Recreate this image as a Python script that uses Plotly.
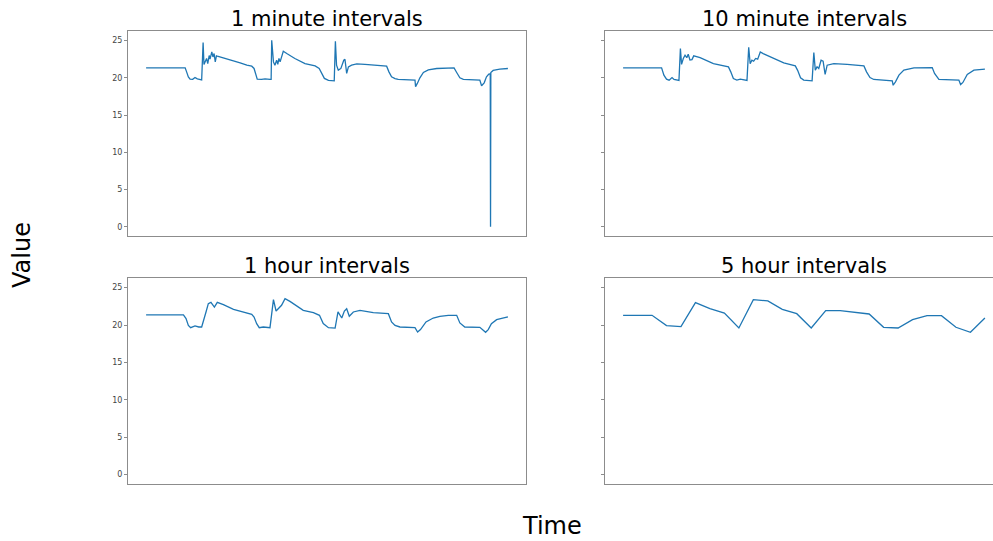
import plotly.graph_objects as go

# Sensor value over time, resampled at four intervals (time in hours from start)
min1_hours = [0, 13.5, 14.0, 14.6, 15.2, 16.1, 16.9, 17.7, 19.2, 19.7, 20.0, 20.5, 20.9, 21.3,
              21.8, 22.1, 22.7, 23.1, 23.5, 23.9, 24.3, 24.6, 26.7, 29.6, 32.5, 34.8, 36.5,
              37.3, 37.9, 38.4, 39.9, 41.1, 42.8, 43.2, 43.4, 44.0, 44.5, 45.1, 45.5, 45.9,
              46.3, 46.9, 47.4, 48.6, 51.4, 54.9, 58.4, 59.8, 60.7, 61.6, 63.0, 65.0, 65.4,
              65.8, 66.4, 67.3, 68.3, 68.7, 69.3, 69.9, 71.0, 72.8, 75.6, 80.2, 83.1, 83.9,
              84.8, 86.0, 87.1, 92.9, 93.1, 93.7, 94.6, 95.8, 97.5, 100.4, 103.2, 106.4,
              107.3, 108.4, 109.6, 115.3, 115.9, 116.8, 117.6, 118.4, 118.9, 119.0, 119.1,
              119.9, 122.2, 125.0]
min1_values = [21.34, 21.34, 20.8, 20.13, 19.83, 19.8, 20.05, 19.87, 19.73, 24.73, 21.8, 22.37,
               22.6, 21.9, 23.0, 22.5, 23.48, 22.8, 23.26, 22.14, 22.94, 22.9, 22.68, 22.37,
               22.0, 21.7, 21.56, 21.26, 20.36, 19.83, 19.78, 19.87, 19.78, 19.78, 25.04,
               22.14, 21.7, 22.37, 21.8, 22.6, 22.14, 23.03, 23.57, 23.26, 22.6, 21.92, 21.6,
               21.26, 20.59, 19.92, 19.65, 19.6, 24.9, 21.7, 21.03, 21.26, 22.37, 22.5, 20.59,
               21.47, 21.7, 21.87, 21.8, 21.65, 21.56, 20.8, 20.13, 19.9, 19.78, 19.69, 18.8,
               19.25, 20.0, 20.72, 21.07, 21.25, 21.3, 21.34, 20.72, 20.0, 19.78, 19.69, 18.93,
               19.33, 20.13, 20.5, 20.55, 0.0, 20.72, 20.99, 21.16, 21.25]

min10_hours = [0, 13.3, 14.1, 15.0, 15.9, 16.9, 17.6, 19.3, 19.8, 20.2, 20.8, 21.4, 22.0, 22.5,
               23.1, 23.8, 24.4, 26.6, 31.2, 36.4, 37.2, 38.1, 39.3, 40.5, 42.8, 43.4, 43.9,
               44.5, 45.1, 45.8, 46.5, 47.4, 48.4, 52.1, 55.5, 59.5, 60.3, 61.3, 62.4, 65.3,
               65.9, 66.4, 67.0, 67.6, 68.4, 69.1, 69.8, 70.5, 72.8, 77.4, 83.2, 84.1, 85.3,
               86.6, 93.0, 93.3, 94.1, 95.3, 97.0, 100.5, 106.8, 107.6, 109.1, 116.0, 116.6,
               117.4, 118.9, 121.2, 125.0]
min10_values = [21.34, 21.34, 20.36, 19.82, 19.69, 20.04, 19.78, 19.64, 23.93, 21.8, 22.6,
                23.04, 22.7, 23.17, 22.4, 22.45, 22.95, 22.7, 21.9, 21.47, 20.8, 19.9, 19.69,
                19.82, 19.64, 24.1, 21.9, 22.36, 22.23, 22.6, 22.5, 23.48, 23.26, 22.6, 22.0,
                21.6, 21.0, 20.0, 19.69, 19.6, 23.4, 21.03, 21.47, 21.25, 22.36, 22.23, 20.45,
                21.7, 21.9, 21.8, 21.6, 20.8, 20.04, 19.78, 19.6, 19.0, 19.46, 20.36, 21.03,
                21.34, 21.38, 20.58, 19.78, 19.69, 19.1, 19.38, 20.45, 21.03, 21.16]

hour1_hours = [0, 12.9, 13.8, 14.6, 15.4, 16.9, 18.2, 19.2, 20.7, 21.5, 22.4, 23.6, 24.6, 26.7,
               30.2, 33.6, 36.5, 37.3, 38.2, 39.1, 40.5, 42.8, 44.0, 44.9, 46.8, 48.0, 49.7,
               54.3, 57.8, 59.9, 61.2, 63.0, 65.3, 66.3, 67.6, 68.5, 69.3, 70.2, 71.6, 73.9,
               78.5, 83.7, 84.8, 86.0, 87.7, 92.9, 93.8, 94.8, 96.7, 99.2, 101.5, 104.4, 107.3,
               108.4, 110.1, 115.3, 116.3, 117.3, 118.2, 119.3, 121.1, 123.4, 125.0]
hour1_values = [21.35, 21.35, 20.86, 19.96, 19.65, 19.88, 19.74, 19.74, 21.75, 22.86, 23.04,
                22.4, 23.04, 22.73, 22.1, 21.75, 21.43, 21.08, 20.19, 19.65, 19.74, 19.65,
                23.4, 21.88, 22.64, 23.53, 23.17, 21.97, 21.66, 21.3, 20.19, 19.65, 19.6,
                21.75, 20.94, 21.88, 22.19, 21.17, 21.75, 21.97, 21.66, 21.52, 20.41, 19.96,
                19.74, 19.65, 19.07, 19.39, 20.41, 20.94, 21.17, 21.3, 21.3, 20.28, 19.74,
                19.7, 19.3, 19.03, 19.39, 20.19, 20.72, 20.99, 21.08]

hour5_hours = [0, 5, 10, 15, 20, 25, 30, 35, 40, 45, 50, 55, 60, 65, 70, 75, 80, 85, 90, 95,
               100, 105, 110, 115, 120, 125]
hour5_values = [21.3, 21.3, 21.3, 19.92, 19.79, 22.99, 22.19, 21.61, 19.61, 23.4, 23.22, 22.1,
                21.52, 19.61, 21.93, 21.93, 21.7, 21.48, 19.7, 19.61, 20.72, 21.26, 21.26,
                19.7, 19.03, 20.94]

panel_titles = ["1 minute intervals", "10 minute intervals", "1 hour intervals", "5 hour intervals"]
y_ticks = [0, 5, 10, 15, 20, 25]

W, H = 993, 541
LINE = "#1f77b4"
SPINE = "#8c8c8c"
FONT = "DejaVu Sans"

left_dom = [128 / W, 526 / W]
right_dom = [605 / W, 1.0]
top_dom = [1 - 236 / H, 1 - 31 / H]
bot_dom = [1 - 484 / H, 1 - 278 / H]

y_range = [-1.25, 26.29]
x_left_range = [-6.25, 131.25]
x_right_range = [-6.25, -6.25 + (993 - 605) / (398 / 137.5)]

fig = go.Figure()
series = [(min1_hours, min1_values), (min10_hours, min10_values),
          (hour1_hours, hour1_values), (hour5_hours, hour5_values)]
for i, (xs, ys) in enumerate(series, start=1):
    fig.add_trace(go.Scatter(x=xs, y=ys, mode="lines", line=dict(color=LINE, width=1.3),
                             xaxis=f"x{i}", yaxis=f"y{i}", showlegend=False, hoverinfo="skip"))


def xaxis(domain, anchor, rng):
    return dict(domain=domain, anchor=anchor, range=rng, showticklabels=False, ticks="",
                showgrid=False, zeroline=False, showline=True, mirror=True,
                linecolor=SPINE, linewidth=1)


def yaxis(domain, anchor, labels, mirror):
    return dict(domain=domain, anchor=anchor, range=y_range, tickvals=y_ticks,
                showticklabels=labels, ticks="outside", ticklen=3, tickwidth=1,
                tickcolor=SPINE, showgrid=False, zeroline=False, showline=True,
                mirror=mirror, linecolor=SPINE, linewidth=1,
                tickfont=dict(family=FONT, size=8, color="#444444"))


layout = dict(
    width=W, height=H, margin=dict(l=0, r=0, t=0, b=0),
    paper_bgcolor="white", plot_bgcolor="white",
    font=dict(family=FONT),
    xaxis1=xaxis(left_dom, "y1", x_left_range),
    yaxis1=yaxis(top_dom, "x1", True, True),
    xaxis2=xaxis(right_dom, "y2", x_right_range),
    yaxis2=yaxis(top_dom, "x2", False, False),
    xaxis3=xaxis(left_dom, "y3", x_left_range),
    yaxis3=yaxis(bot_dom, "x3", True, True),
    xaxis4=xaxis(right_dom, "y4", x_right_range),
    yaxis4=yaxis(bot_dom, "x4", False, False),
)
fig.update_layout(**layout)

# Panel titles, centred over each full panel width
title_pos = [(327, 31), (804, 31), (327, 278), (804, 278)]
for text, (px, py) in zip(panel_titles, title_pos):
    fig.add_annotation(text=text, x=px / W, y=1 - (py + 2) / H, xref="paper", yref="paper",
                       xanchor="center", yanchor="bottom", showarrow=False,
                       font=dict(family=FONT, size=21, color="black"))

# Shared axis labels
fig.add_annotation(text="Time", x=551.5 / W, y=0, xref="paper", yref="paper",
                   xanchor="center", yanchor="bottom", borderpad=0, showarrow=False,
                   font=dict(family=FONT, size=24, color="black"))
fig.add_annotation(text="Value", x=22 / W, y=1 - 255 / H, xref="paper", yref="paper",
                   xanchor="center", yanchor="middle", textangle=-90, showarrow=False,
                   font=dict(family=FONT, size=24, color="black"))

fig.write_html("out.html")
